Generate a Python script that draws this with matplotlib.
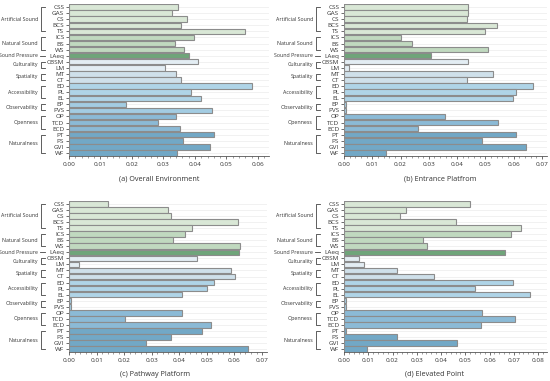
import matplotlib
matplotlib.use("Agg")
import matplotlib.pyplot as plt
from matplotlib.ticker import MultipleLocator, AutoMinorLocator
from matplotlib.lines import Line2D

plt.rcParams['font.family'] = ['Open Sans', 'DejaVu Sans']

indicators = ["CSS", "GAS", "CS", "BCS", "TS", "ICS", "BS", "WS", "LAeq",
              "CBSM", "LM", "MT", "CT", "ED", "PL", "EL", "EP", "PVS",
              "OP", "TCD", "ECD", "PT", "PS", "GVI", "WF"]

groups = ["Artificial Sound", "Natural Sound", "Sound Pressure", "Culturality",
          "Spatiality", "Accessibility", "Observability", "Openness", "Naturalness"]
group_sizes = [5, 3, 1, 2, 2, 3, 2, 3, 4]
group_colors = ["#d9e7d6", "#c0d9bf", "#6fa57a", "#e3edf3", "#cfe0ea",
                "#afd4e7", "#a3cce2", "#8bbad6", "#72a8c6"]

overall = [0.0347, 0.0326, 0.0375, 0.0356, 0.0559, 0.0398, 0.0337, 0.0365, 0.0380,
           0.0410, 0.0306, 0.0340, 0.0356, 0.0581, 0.0388, 0.0420, 0.0180, 0.0454,
           0.0340, 0.0283, 0.0354, 0.0459, 0.0361, 0.0447, 0.0343]
entrance = [0.0437, 0.0437, 0.0434, 0.0540, 0.0499, 0.0200, 0.0241, 0.0511, 0.0306,
            0.0440, 0.0019, 0.0526, 0.0436, 0.0670, 0.0607, 0.0597, 0.0008, 0.0008,
            0.0358, 0.0544, 0.0260, 0.0610, 0.0487, 0.0642, 0.0147]
pathway = [0.0140, 0.0359, 0.0369, 0.0613, 0.0447, 0.0420, 0.0376, 0.0621, 0.0618,
           0.0464, 0.0037, 0.0589, 0.0601, 0.0525, 0.0501, 0.0409, 0.0009, 0.0009,
           0.0408, 0.0203, 0.0514, 0.0482, 0.0369, 0.0279, 0.0650]
elevated = [0.0520, 0.0257, 0.0231, 0.0463, 0.0731, 0.0689, 0.0324, 0.0344, 0.0665,
            0.0062, 0.0084, 0.0220, 0.0371, 0.0698, 0.0542, 0.0768, 0.0008, 0.0008,
            0.0570, 0.0704, 0.0566, 0.0008, 0.0220, 0.0465, 0.0095]

captions = ["(a) Overall Environment", "(b) Entrance Platfrom",
            "(c) Pathway Platform", "(d) Elevated Point"]
series = [overall, entrance, pathway, elevated]
xlims = [0.0635, 0.0718, 0.0718, 0.0837]

W, H = 550, 381
fig = plt.figure(figsize=(W / 100, H / 100), dpi=100)

# axes boxes in pixels: left, top, right, bottom
boxes = [(69, 4.0, 269, 156.0), (344, 4.0, 547, 156.0),
         (69, 200.8, 267, 352.2), (344, 200.8, 547, 352.2)]
panel_x0 = [0, 275, 0, 275]
cap_pos = [(159, 179), (440, 179), (155, 374), (435, 374)]

colors = []
for c, n in zip(group_colors, group_sizes):
    colors += [c] * n

for k in range(4):
    l, t, r, b = boxes[k]
    ax = fig.add_axes([l / W, 1 - b / H, (r - l) / W, (b - t) / H])
    y = list(range(len(indicators)))
    ax.barh(y, series[k], height=0.9, color=colors, edgecolor="#8c8c8c",
            linewidth=0.8, zorder=3)
    ax.set_ylim(len(indicators) - 0.5, -0.5)
    ax.set_xlim(0, xlims[k])
    ax.set_yticks(y)
    ax.set_yticklabels(indicators, fontsize=4.6, color="#333333")
    ax.xaxis.set_major_locator(MultipleLocator(0.01))
    ax.xaxis.set_minor_locator(AutoMinorLocator(5))
    ax.xaxis.set_major_formatter(matplotlib.ticker.FormatStrFormatter('%.2f'))
    ax.tick_params(axis='x', labelsize=4.6, colors="#333333", length=2.5, width=0.5, pad=2)
    ax.tick_params(axis='x', which='minor', length=1.3, width=0.4, colors="#555555")
    ax.tick_params(axis='y', length=2, width=0.5, pad=1.5, colors="#333333")
    ax.grid(axis='y', color="#ececec", linewidth=0.5, zorder=0)
    for s in ["top", "right"]:
        ax.spines[s].set_visible(False)
    for s in ["left", "bottom"]:
        ax.spines[s].set_color("#555555")
        ax.spines[s].set_linewidth(0.6)

    # group brackets
    wpx = r - l
    ox = panel_x0[k]
    xv = (ox + 40.7 - l) / wpx
    xa = (ox + 45.0 - l) / wpx
    xt = (ox + 38.0 - l) / wpx
    trans = ax.get_yaxis_transform()
    start = 0
    for g, n in zip(groups, group_sizes):
        y0, y1 = start, start + n - 1
        if n == 1:
            ax.add_line(Line2D([xv - 0.005, xa], [y0, y0], transform=trans, color="#444444",
                               linewidth=0.6, clip_on=False))
        else:
            ax.add_line(Line2D([xa, xv, xv, xa], [y0, y0, y1, y1], transform=trans,
                               color="#444444", linewidth=0.6, clip_on=False))
        ax.text(xt, (y0 + y1) / 2, g, transform=trans, ha="right", va="center",
                fontsize=3.8, color="#333333")
        start += n

    cx, cy = cap_pos[k]
    fig.text(cx / W, 1 - cy / H, captions[k], ha="center", va="center",
             fontsize=5.2, color="#333333")

fig.savefig("out.png", dpi=100)
